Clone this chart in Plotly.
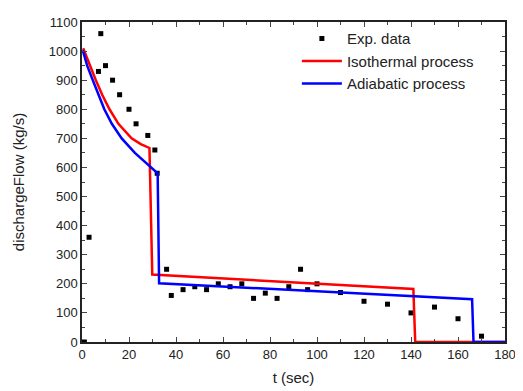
import plotly.graph_objects as go

# Experimental data
exp_t = [1, 3, 7, 8, 10, 13, 16, 20, 23, 28, 31, 32, 36, 38, 43, 48, 53, 58, 63, 68,
         73, 78, 83, 88, 93, 96, 100, 110, 120, 130, 140, 150, 160, 170]
exp_q = [0, 360, 930, 1060, 950, 900, 850, 800, 750, 710, 660, 580, 250, 160, 180, 190,
         180, 200, 190, 200, 150, 168, 150, 190, 250, 180, 200, 170, 140, 130, 100, 120, 80, 20]

# Isothermal process
iso_t = [0.5, 3.4, 5.9, 8.6, 11.7, 15.5, 21.1, 25, 28.7, 29.9, 141, 141.8, 180]
iso_q = [1010, 950, 900, 850, 800, 750, 700, 680, 667, 232, 182, 0, 0]

# Adiabatic process
adi_t = [0.3, 2.2, 4.6, 7.0, 9.5, 12.7, 16.9, 22.5, 29.4, 32.2, 32.8, 166, 166.6, 180]
adi_q = [1003, 950, 900, 850, 800, 750, 700, 650, 600, 580, 202, 147, 0, 0]

fig = go.Figure()
fig.add_trace(go.Scatter(x=exp_t, y=exp_q, mode="markers", name="Exp. data",
                         marker=dict(symbol="square", size=5, color="black")))
fig.add_trace(go.Scatter(x=iso_t, y=iso_q, mode="lines", name="Isothermal process",
                         line=dict(color="#ff0000", width=2.5)))
fig.add_trace(go.Scatter(x=adi_t, y=adi_q, mode="lines", name="Adiabatic process",
                         line=dict(color="#0000ff", width=2.5)))

axis_common = dict(showline=True, linecolor="#222222", linewidth=1.5, mirror="allticks",
                   ticks="inside", ticklen=5, tickwidth=1, tickcolor="#444444",
                   showgrid=False, zeroline=False,
                   tickfont=dict(family="Liberation Sans, Arial", size=13, color="#222222"))

fig.update_layout(
    width=515, height=383,
    margin=dict(l=74, r=11, t=7, b=49),
    paper_bgcolor="white", plot_bgcolor="white",
    font=dict(family="Liberation Sans, Arial", color="#222222"),
    xaxis=dict(range=[0, 180], dtick=20,
               minor=dict(dtick=10, ticks="inside", ticklen=3, tickcolor="#444444"),
               title=dict(text="t (sec)", font=dict(size=15), standoff=11),
               **axis_common),
    yaxis=dict(range=[0, 1100], dtick=100,
               minor=dict(dtick=50, ticks="inside", ticklen=3, tickcolor="#444444"),
               title=dict(text="dischargeFlow (kg/s)", font=dict(size=15), standoff=20),
               **axis_common),
    legend=dict(x=0.508, y=0.999, xanchor="left", yanchor="top",
                bgcolor="rgba(0,0,0,0)", font=dict(size=15, color="#222222"),
                tracegroupgap=0, itemwidth=40),
    showlegend=True,
)

fig.write_html("out.html")
